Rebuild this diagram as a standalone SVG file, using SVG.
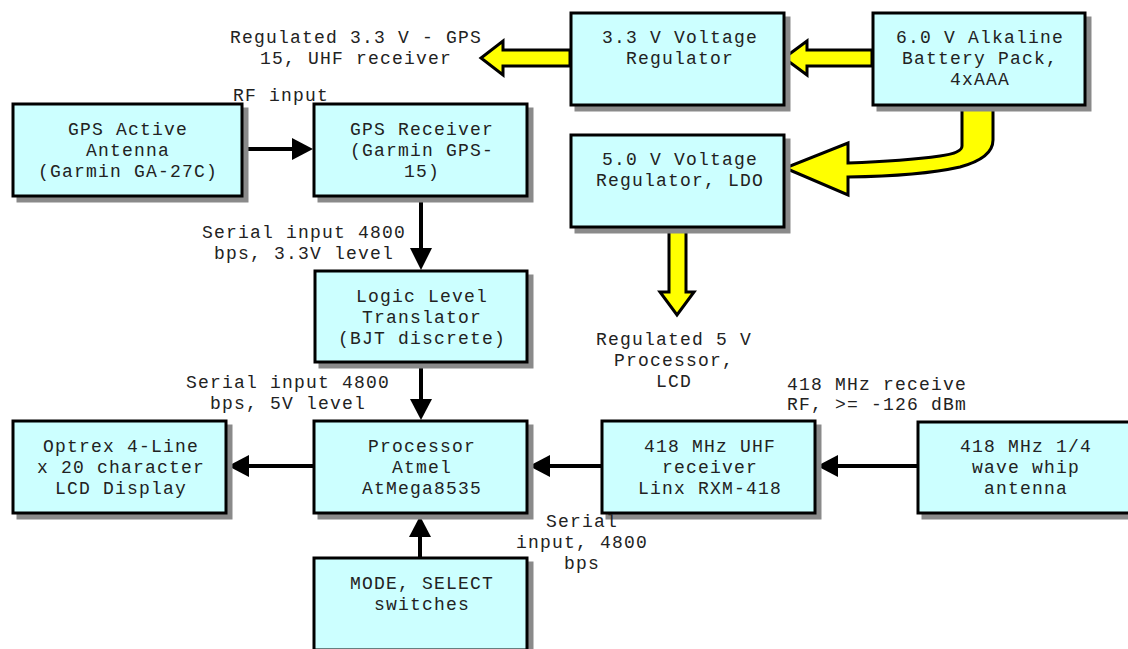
<svg xmlns="http://www.w3.org/2000/svg" width="1128" height="649" viewBox="0 0 1128 649">
<defs>
<style>
.box{fill:#ccffff;stroke:#000;stroke-width:3}
.sh{fill:#8a8a8a;stroke:#8a8a8a;stroke-width:3}
text{font-family:"Liberation Mono","Courier New",monospace;font-size:18px;letter-spacing:1.2px;fill:#222;text-anchor:middle}
.ln{stroke:#000;stroke-width:4;fill:none}
.hd{fill:#000;stroke:none}
.ya{fill:#ffff00;stroke:#000;stroke-width:3;stroke-linejoin:miter}
</style>
</defs>
<rect width="1128" height="649" fill="#fff"/>

<g id="connectors">
  <line class="ln" x1="243" y1="149" x2="294" y2="149"/>
  <polygon class="hd" points="292,138 313,149 292,160"/>
  <line class="ln" x1="421" y1="197" x2="421" y2="250"/>
  <polygon class="hd" points="410,248 432,248 421,270"/>
  <line class="ln" x1="421" y1="363" x2="421" y2="401"/>
  <polygon class="hd" points="410,399 432,399 421,420"/>
  <line class="ln" x1="313" y1="466" x2="247" y2="466"/>
  <polygon class="hd" points="249,455 249,477 228,466"/>
  <line class="ln" x1="601" y1="466" x2="548" y2="466"/>
  <polygon class="hd" points="550,455 550,477 529,466"/>
  <line class="ln" x1="917" y1="466" x2="836" y2="466"/>
  <polygon class="hd" points="838,455 838,477 817,466"/>
  <line class="ln" x1="420" y1="557" x2="420" y2="535"/>
  <polygon class="hd" points="409,537 431,537 420,516"/>
  <path class="ya" d="M570,50 L503,50 L503,41 L481,58 L503,75 L503,66 L570,66 Z"/>
  <path class="ya" d="M872,50 L807,50 L807,41 L784,58 L807,75 L807,66 L872,66 Z"/>
  <path class="ya" d="M962,106 L962,146 Q962,153 940,156 Q905,161 848,163 L848,143 L785,168 L848,195 L848,177 Q920,176 960,167 Q993,158 993,140 L993,106 Z"/>
  <path class="ya" d="M669,227 L669,292 L660,292 L677,315 L694,292 L686,292 L686,227 Z"/>
</g>

<g id="gps-antenna">
  <rect class="sh" x="18" y="109" width="229" height="92"/>
  <rect class="box" x="13" y="104" width="229" height="92"/>
  <text x="128" y="135">GPS Active</text>
  <text x="128" y="156">Antenna</text>
  <text x="128" y="177">(Garmin GA-27C)</text>
</g>
<g id="gps-receiver">
  <rect class="sh" x="319" y="109" width="213" height="92"/>
  <rect class="box" x="314" y="104" width="213" height="92"/>
  <text x="422" y="135">GPS Receiver</text>
  <text x="422" y="156">(Garmin GPS-</text>
  <text x="422" y="177">15)</text>
</g>
<g id="reg33">
  <rect class="sh" x="576" y="18" width="213" height="92"/>
  <rect class="box" x="571" y="13" width="213" height="92"/>
  <text x="680" y="43">3.3 V Voltage</text>
  <text x="680" y="64">Regulator</text>
</g>
<g id="battery">
  <rect class="sh" x="878" y="18" width="212" height="92"/>
  <rect class="box" x="873" y="13" width="212" height="92"/>
  <text x="980" y="43">6.0 V Alkaline</text>
  <text x="980" y="64">Battery Pack,</text>
  <text x="980" y="85">4xAAA</text>
</g>
<g id="reg50">
  <rect class="sh" x="576" y="140" width="213" height="92"/>
  <rect class="box" x="571" y="135" width="213" height="92"/>
  <text x="680" y="165">5.0 V Voltage</text>
  <text x="680" y="186">Regulator, LDO</text>
</g>
<g id="translator">
  <rect class="sh" x="320" y="276" width="212" height="91"/>
  <rect class="box" x="315" y="271" width="212" height="91"/>
  <text x="422" y="302">Logic Level</text>
  <text x="422" y="323">Translator</text>
  <text x="422" y="344">(BJT discrete)</text>
</g>
<g id="processor">
  <rect class="sh" x="319" y="426" width="213" height="92"/>
  <rect class="box" x="314" y="421" width="213" height="92"/>
  <text x="422" y="452">Processor</text>
  <text x="422" y="473">Atmel</text>
  <text x="422" y="494">AtMega8535</text>
</g>
<g id="lcd">
  <rect class="sh" x="18" y="426" width="213" height="92"/>
  <rect class="box" x="13" y="421" width="213" height="92"/>
  <text x="121" y="452">Optrex 4-Line</text>
  <text x="121" y="473">x 20 character</text>
  <text x="121" y="494">LCD Display</text>
</g>
<g id="uhf-receiver">
  <rect class="sh" x="607" y="426" width="213" height="92"/>
  <rect class="box" x="602" y="421" width="213" height="92"/>
  <text x="710" y="452">418 MHz UHF</text>
  <text x="710" y="473">receiver</text>
  <text x="710" y="494">Linx RXM-418</text>
</g>
<g id="whip-antenna">
  <rect class="sh" x="923" y="427" width="213" height="91"/>
  <rect class="box" x="918" y="422" width="213" height="91"/>
  <text x="1026" y="452">418 MHz 1/4</text>
  <text x="1026" y="473">wave whip</text>
  <text x="1026" y="494">antenna</text>
</g>
<g id="switches">
  <rect class="sh" x="319" y="563" width="213" height="92"/>
  <rect class="box" x="314" y="558" width="213" height="92"/>
  <text x="422" y="589">MODE, SELECT</text>
  <text x="422" y="610">switches</text>
</g>

<g id="labels">
  <text x="356" y="43">Regulated 3.3 V - GPS</text>
  <text x="356" y="64">15, UHF receiver</text>
  <text x="281" y="101">RF input</text>
  <text x="304" y="238">Serial input 4800</text>
  <text x="304" y="259">bps, 3.3V level</text>
  <text x="674" y="345">Regulated 5 V</text>
  <text x="674" y="366">Processor,</text>
  <text x="674" y="387">LCD</text>
  <text x="288" y="388">Serial input 4800</text>
  <text x="288" y="409">bps, 5V level</text>
  <text x="877" y="390">418 MHz receive</text>
  <text x="877" y="410">RF, &gt;= -126 dBm</text>
  <text x="582" y="527">Serial</text>
  <text x="582" y="548">input, 4800</text>
  <text x="582" y="569">bps</text>
</g>
</svg>
